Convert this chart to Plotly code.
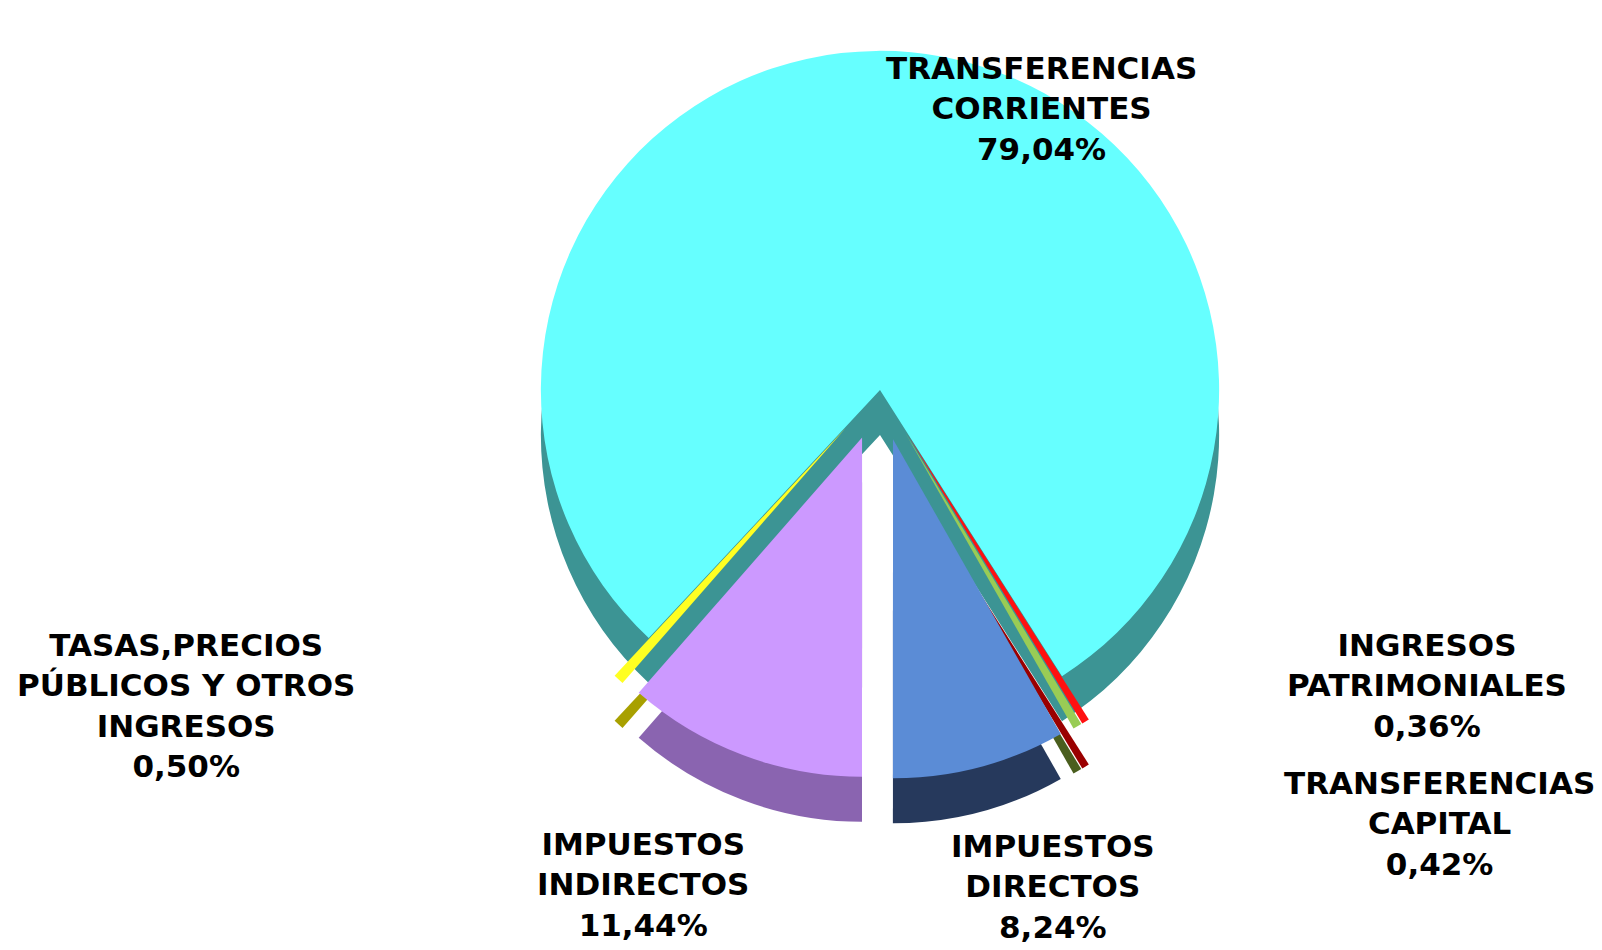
import plotly.graph_objects as go

categories = ["TRANSFERENCIAS CORRIENTES", "INGRESOS PATRIMONIALES", "TRANSFERENCIAS CAPITAL",
              "IMPUESTOS DIRECTOS", "IMPUESTOS INDIRECTOS", "TASAS,PRECIOS PÚBLICOS Y OTROS INGRESOS"]
values = [79.04, 0.36, 0.42, 8.24, 11.44, 0.50]
top_colors = ["#66FFFF", "#FF1010", "#99CC55", "#5B8CD6", "#CC99FF", "#FFFF22"]
side_colors = ["#3C9494", "#9A0000", "#4A5E1E", "#26395C", "#8A64B0", "#A8A000"]
pulls = [0, 0.15, 0.15, 0.15, 0.15, 0.15]

label_texts = [
    "TRANSFERENCIAS<br>CORRIENTES<br>79,04%",
    "INGRESOS<br>PATRIMONIALES<br>0,36%",
    "TRANSFERENCIAS<br>CAPITAL<br>0,42%",
    "IMPUESTOS<br>DIRECTOS<br>8,24%",
    "IMPUESTOS<br>INDIRECTOS<br>11,44%",
    "TASAS,PRECIOS<br>PÚBLICOS Y OTROS<br>INGRESOS<br>0,50%",
]
label_x = [1041, 1427, 1439, 1053, 643, 186]
label_y = [108, 685, 823, 886, 884, 705]

W, H = 1602, 950
cx, cy, depth = 880, 390, 45
half = 390

def dom(dy):
    return dict(x=[(cx - half) / W, (cx + half) / W],
                y=[1 - (cy + dy + half) / H, 1 - (cy + dy - half) / H])

fig = go.Figure()
fig.add_trace(go.Pie(labels=categories, values=values, sort=False, direction="clockwise",
                     rotation=223, pull=pulls, textinfo="none", hoverinfo="skip",
                     marker=dict(colors=side_colors, line=dict(width=0)),
                     domain=dom(depth), showlegend=False))
fig.add_trace(go.Pie(labels=categories, values=values, sort=False, direction="clockwise",
                     rotation=223, pull=pulls, textinfo="none",
                     marker=dict(colors=top_colors, line=dict(width=0)),
                     domain=dom(0), showlegend=False))

for t, x, y in zip(label_texts, label_x, label_y):
    fig.add_annotation(text="<b>" + t + "</b>", x=x / W, y=1 - y / H, xref="paper", yref="paper",
                       showarrow=False, xanchor="center", yanchor="middle", align="center",
                       font=dict(family="DejaVu Sans, Arial, sans-serif", size=31, color="black"))

fig.update_layout(width=W, height=H, margin=dict(l=0, r=0, t=0, b=0),
                  paper_bgcolor="white", plot_bgcolor="white", showlegend=False)
fig.write_html("out.html")
